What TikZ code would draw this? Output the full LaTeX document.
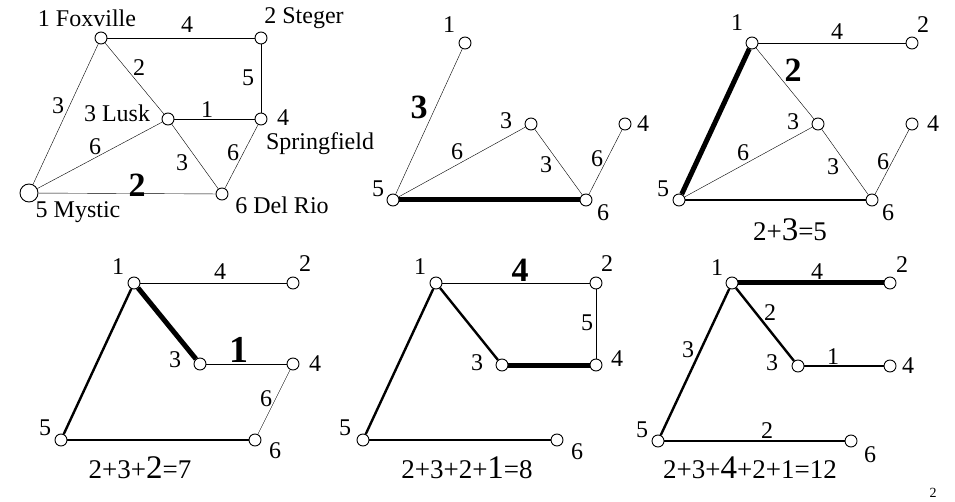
\documentclass[tikz,border=0pt]{standalone}
\usepackage{fontspec}
\setmainfont{Liberation Serif}
\usetikzlibrary{backgrounds}
\newcommand{\bump}[1]{{\fontsize{33}{35}\selectfont #1}}
\begin{document}
\begin{tikzpicture}[x=1pt, y=-1pt, line width=0.9pt,
  city/.style={circle, draw, fill=white, line width=0.9pt, minimum size=12pt, inner sep=0pt},
  bigcity/.style={city, minimum size=18pt},
  lab/.style={font=\fontsize{24}{26}\selectfont, inner sep=0pt},
  hot/.style={font=\fontsize{34}{36}\selectfont\bfseries, inner sep=0pt},
  tot/.style={font=\fontsize{27}{30}\selectfont, inner sep=0pt},
  mid/.style={line width=2.4pt},
  heavy/.style={line width=5pt}]
  \useasboundingbox (0,0) rectangle (955,502);

  % the whole network
  \node[city] (a1) at (101,38) {};
  \node[city] (a2) at (261,38) {};
  \node[city] (a3) at (168,119) {};
  \node[city] (a4) at (261,119) {};
  \node[bigcity] (a5) at (29,193) {};
  \node[city] (a6) at (222,194) {};
  \node[lab] (ta1) at (87,18) {1 Foxville};
  \node[lab] (ta2) at (304,18) {2 Steger};
  \node[lab] (ta3) at (117,113) {3 Lusk};
  \node[lab] (ta4) at (283,118) {4};
  \node[lab] (ta4s) at (320,144) {Springfield};
  \node[lab] (ta5) at (78,212) {5 Mystic};
  \node[lab] (ta6) at (282,205) {6 Del Rio};
  \node[lab] (wa12) at (187,25) {4};
  \node[lab] (wa13) at (139,68) {2};
  \node[lab] (wa24) at (248,78) {5};
  \node[lab] (wa15) at (58,106) {3};
  \node[lab] (wa34) at (207,110) {1};
  \node[lab] (wa35) at (95,147) {6};
  \node[lab] (wa36) at (182,163) {3};
  \node[lab] (wa46) at (233,153) {6};
  \node[hot] (wa56) at (137,185) {2};
  \begin{scope}[on background layer]
    \draw (a1) -- (a2);
    \draw (a1) -- (a3);
    \draw (a1) -- (a5);
    \draw (a2) -- (a4);
    \draw (a3) -- (a4);
    \draw (a3) -- (a5);
    \draw (a3) -- (a6);
    \draw (a4) -- (a6);
    \draw (a5) -- (a6);
  \end{scope}

  % step 1
  \node[city] (b1) at (465,43) {};
  \node[city] (b3) at (531,124) {};
  \node[city] (b4) at (625,124) {};
  \node[city] (b5) at (393,200) {};
  \node[city] (b6) at (586,200) {};
  \node[lab] (tb1) at (449,25) {1};
  \node[lab] (tb3) at (506,121) {3};
  \node[lab] (tb4) at (643,124) {4};
  \node[lab] (tb5) at (378,189) {5};
  \node[lab] (tb6) at (603,213) {6};
  \node[hot] (wb15) at (419,107) {3};
  \node[lab] (wb35) at (457,152) {6};
  \node[lab] (wb36) at (546,165) {3};
  \node[lab] (wb46) at (597,159) {6};
  \begin{scope}[on background layer]
    \draw (b1) -- (b5);
    \draw (b5) -- (b3);
    \draw (b3) -- (b6);
    \draw (b6) -- (b4);
    \draw[heavy] (b5) -- (b6);
  \end{scope}

  % step 2
  \node[city] (c1) at (752,43) {};
  \node[city] (c2) at (912,43) {};
  \node[city] (c3) at (818,124) {};
  \node[city] (c4) at (912,124) {};
  \node[city] (c5) at (679,200) {};
  \node[city] (c6) at (872,200) {};
  \node[lab] (tc1) at (737,23) {1};
  \node[lab] (tc2) at (923,25) {2};
  \node[lab] (tc3) at (793,122) {3};
  \node[lab] (tc4) at (933,124) {4};
  \node[lab] (tc5) at (663,189) {5};
  \node[lab] (tc6) at (888,213) {6};
  \node[lab] (wc12) at (837,32) {4};
  \node[hot] (wc13) at (793,70) {2};
  \node[lab] (wc35) at (743,153) {6};
  \node[lab] (wc36) at (833,167) {3};
  \node[lab] (wc46) at (883,162) {6};
  \node[tot] (sc) at (790,230) {2+\bump{3}=5};
  \begin{scope}[on background layer]
    \draw (c1) -- (c2);
    \draw (c1) -- (c3);
    \draw[heavy] (c1) -- (c5);
    \draw (c5) -- (c3);
    \draw (c3) -- (c6);
    \draw (c6) -- (c4);
    \draw[mid] (c5) -- (c6);
  \end{scope}

  % step 3
  \node[city] (d1) at (134,283) {};
  \node[city] (d2) at (293,283) {};
  \node[city] (d3) at (200,364) {};
  \node[city] (d4) at (293,364) {};
  \node[city] (d5) at (61,440) {};
  \node[city] (d6) at (255,440) {};
  \node[lab] (td1) at (118,267) {1};
  \node[lab] (td2) at (305,264) {2};
  \node[lab] (td3) at (175,360) {3};
  \node[lab] (td4) at (315,364) {4};
  \node[lab] (td5) at (45,428) {5};
  \node[lab] (td6) at (275,451) {6};
  \node[lab] (wd12) at (220,272) {4};
  \node[hot, font=\fontsize{38}{40}\selectfont\bfseries] (wd34) at (239,350) {1};
  \node[lab] (wd46) at (266,399) {6};
  \node[tot] (sd) at (140,468) {2+3+\bump{2}=7};
  \begin{scope}[on background layer]
    \draw (d1) -- (d2);
    \draw[heavy] (d1) -- (d3);
    \draw[mid] (d1) -- (d5);
    \draw (d3) -- (d4);
    \draw (d4) -- (d6);
    \draw[mid] (d5) -- (d6);
  \end{scope}

  % step 4
  \node[city] (e1) at (436,283) {};
  \node[city] (e2) at (596,283) {};
  \node[city] (e3) at (502,365) {};
  \node[city] (e4) at (596,365) {};
  \node[city] (e5) at (363,440) {};
  \node[city] (e6) at (557,440) {};
  \node[lab] (te1) at (420,267) {1};
  \node[lab] (te2) at (607,264) {2};
  \node[lab] (te3) at (477,363) {3};
  \node[lab] (te4) at (617,359) {4};
  \node[lab] (te5) at (345,428) {5};
  \node[lab] (te6) at (577,452) {6};
  \node[hot] (we12) at (520,270) {4};
  \node[lab] (we24) at (587,323) {5};
  \node[tot] (se) at (467,468) {2+3+2+\bump{1}=8};
  \begin{scope}[on background layer]
    \draw (e1) -- (e2);
    \draw (e2) -- (e4);
    \draw[mid] (e1) -- (e3);
    \draw[heavy] (e3) -- (e4);
    \draw[mid] (e1) -- (e5);
    \draw[mid] (e5) -- (e6);
  \end{scope}

  % the finished tree
  \node[city] (f1) at (732,283) {};
  \node[city] (f2) at (890,283) {};
  \node[city] (f3) at (798,366) {};
  \node[city] (f4) at (890,366) {};
  \node[city] (f5) at (658,441) {};
  \node[city] (f6) at (851,441) {};
  \node[lab] (tf1) at (717,268) {1};
  \node[lab] (tf2) at (902,265) {2};
  \node[lab] (tf3) at (772,363) {3};
  \node[lab] (tf4) at (908,366) {4};
  \node[lab] (tf5) at (642,430) {5};
  \node[lab] (tf6) at (870,455) {6};
  \node[lab] (wf12) at (817,272) {4};
  \node[lab] (wf13) at (770,313) {2};
  \node[lab] (wf15) at (688,350) {3};
  \node[lab] (wf34) at (833,357) {1};
  \node[lab] (wf56) at (767,431) {2};
  \node[tot] (sf) at (750,468) {2+3+\bump{4}+2+1=12};
  \begin{scope}[on background layer]
    \draw[heavy] (f1) -- (f2);
    \draw[mid] (f1) -- (f3);
    \draw[mid] (f3) -- (f4);
    \draw[mid] (f1) -- (f5);
    \draw[mid] (f5) -- (f6);
  \end{scope}

  \node[font=\fontsize{14}{16}\selectfont, inner sep=0pt] (page) at (933,493) {2};
\end{tikzpicture}
\end{document}
